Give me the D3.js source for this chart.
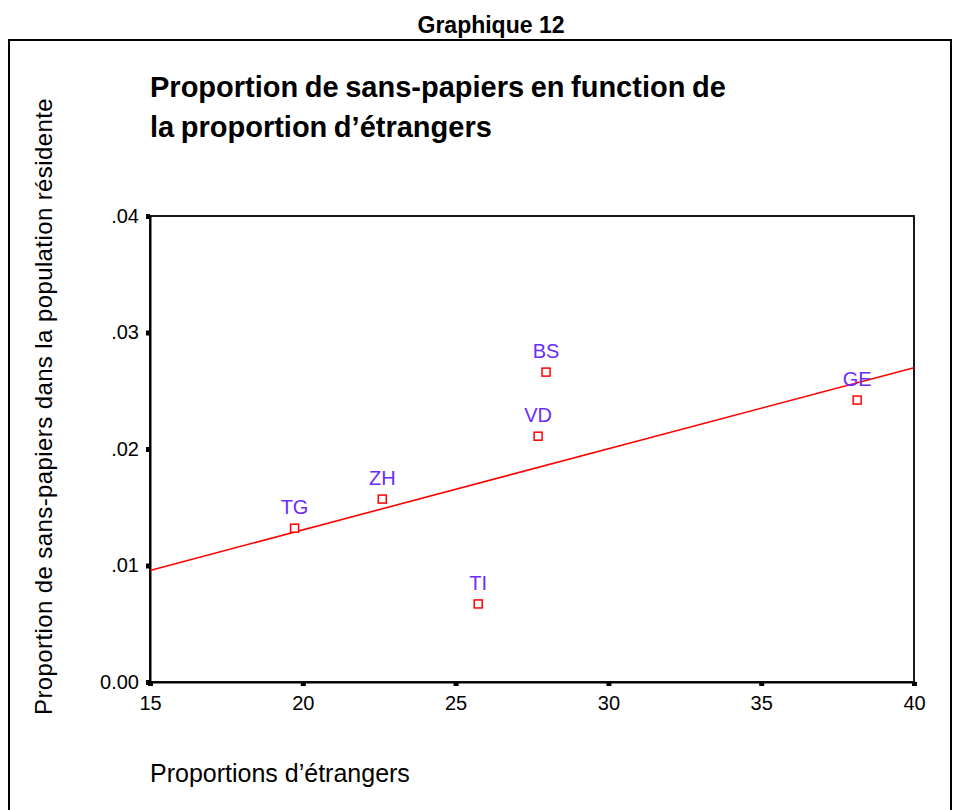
<!DOCTYPE html>
<html>
<head>
<meta charset="utf-8">
<script src="https://cdn.jsdelivr.net/npm/d3@7"></script>
<style>
  body { margin: 0; background: #fff; }
  svg { display: block; font-family: "Liberation Sans", Arial, sans-serif; }
</style>
</head>
<body>
<svg id="chart" width="955" height="810"></svg>
<script>
// cantons, share of foreigners (%), share of undocumented in resident pop.
const cantons = ["TG", "ZH", "TI", "VD", "BS", "GE"];
const foreigners = [19.73, 22.6, 25.74, 27.7, 27.96, 38.14];
const sansPapiers = [0.0132, 0.0157, 0.0067, 0.0211, 0.0266, 0.0242];
const xTicks = [15, 20, 25, 30, 35, 40];
const yTicks = [0, 0.01, 0.02, 0.03, 0.04];
const yTickLabels = ["0.00", ".01", ".02", ".03", ".04"];

const svg = d3.select("#chart");

// caption + outer frame
svg.append("text").attr("x", 491).attr("y", 33).attr("text-anchor", "middle")
  .attr("font-size", 23).attr("font-weight", 700).text("Graphique 12");
svg.append("path").attr("d", "M9,812 V40 H951 V812")
  .attr("fill", "none").attr("stroke", "#000").attr("stroke-width", 2);

// main title
const title = svg.append("text").attr("font-size", 29).attr("font-weight", 700)
  .attr("word-spacing", -1.5);
title.append("tspan").attr("x", 150).attr("y", 97).text("Proportion de sans-papiers en function de");
title.append("tspan").attr("x", 150).attr("y", 137).text("la proportion d\u2019\u00e9trangers");

const x = d3.scaleLinear().domain([15, 40]).range([150, 914]);
const y = d3.scaleLinear().domain([0, 0.04]).range([682, 216]);

// plot box
svg.append("rect").attr("x", x(15)).attr("y", y(0.04))
  .attr("width", x(40) - x(15)).attr("height", y(0) - y(0.04))
  .attr("fill", "none").attr("stroke", "#000").attr("stroke-width", 1.8);

// axes with short heavy ticks
const xAxis = svg.append("g").attr("transform", `translate(0,${y(0)})`)
  .call(d3.axisBottom(x).tickValues(xTicks).tickSize(4).tickPadding(10));
const yAxis = svg.append("g").attr("transform", `translate(${x(15)},0)`)
  .call(d3.axisLeft(y).tickValues(yTicks).tickFormat((d, i) => yTickLabels[i]).tickSize(4).tickPadding(7));
[xAxis, yAxis].forEach(g => {
  g.select(".domain").attr("stroke-width", 2);
  g.selectAll(".tick line").attr("stroke-width", 5);
  g.selectAll(".tick text").attr("font-size", 20).attr("fill", "#000")
    .attr("font-family", "Liberation Sans, Arial, sans-serif");
});

// axis titles
svg.append("text").attr("x", 150).attr("y", 782).attr("font-size", 25)
  .text("Proportions d\u2019\u00e9trangers");
svg.append("text").attr("transform", "translate(52,715) rotate(-90)")
  .attr("font-size", 24).attr("letter-spacing", 0.4)
  .text("Proportion de sans-papiers dans la population r\u00e9sidente");

// least-squares fit line
const mx = d3.mean(foreigners), my = d3.mean(sansPapiers);
const slope = d3.sum(foreigners, (v, i) => (v - mx) * (sansPapiers[i] - my)) /
  d3.sum(foreigners, v => (v - mx) * (v - mx));
const fit = v => my + slope * (v - mx);
svg.append("line")
  .attr("x1", x(15)).attr("y1", y(fit(15)))
  .attr("x2", x(40)).attr("y2", y(fit(40)))
  .attr("stroke", "#f00").attr("stroke-width", 1.6);

// points
const pts = svg.append("g").selectAll("g").data(cantons).enter().append("g")
  .attr("transform", (d, i) => `translate(${x(foreigners[i])},${y(sansPapiers[i])})`);
pts.append("rect").attr("x", -4).attr("y", -4).attr("width", 8).attr("height", 8)
  .attr("fill", "#fff").attr("stroke", "#f00").attr("stroke-width", 1.5);
pts.append("text").attr("y", -14).attr("text-anchor", "middle")
  .attr("font-size", 20).attr("fill", "#6a2cff").text(d => d);
</script>
</body>
</html>
